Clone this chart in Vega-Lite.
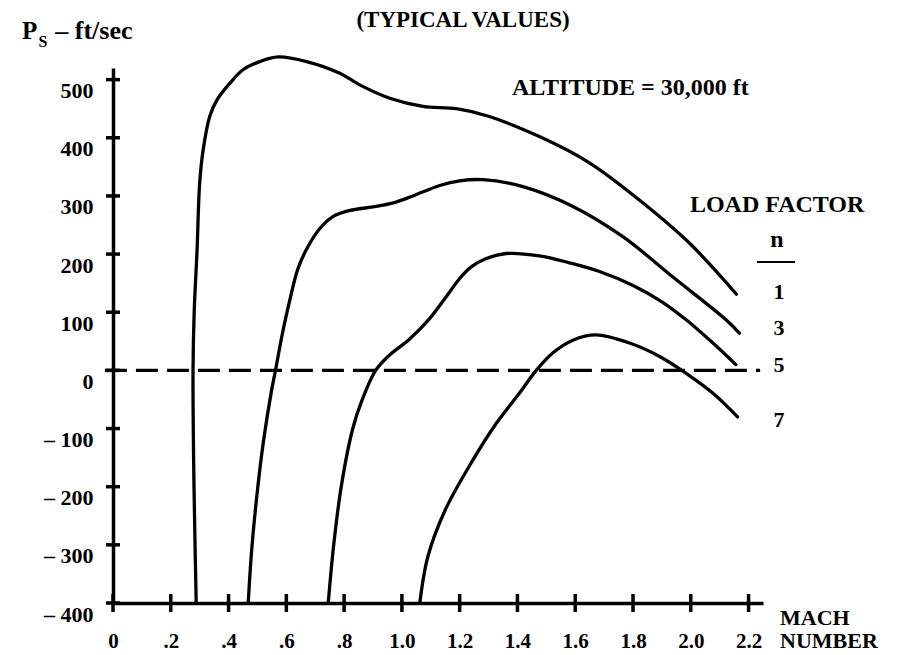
{
  "$schema": "https://vega.github.io/schema/vega-lite/v6.json",
  "width": 650,
  "height": 535,
  "autosize": {"type": "none"},
  "padding": {"left": 113, "top": 68, "right": 145, "bottom": 52},
  "background": "white",
  "config": {
    "view": {"stroke": null},
    "font": "Liberation Serif",
    "text": {"font": "Liberation Serif", "fontWeight": "bold", "color": "black"},
    "axis": {"title": null, "grid": false, "ticks": false, "domainColor": "black", "domainWidth": 3.5,
             "labelFont": "Liberation Serif", "labelFontWeight": "bold", "labelFontSize": 22, "labelColor": "black",
             "labelOverlap": false, "labelFlush": false, "labelBound": false}
  },
  "datasets": {
    "curves": [
      {"n": 1, "mach": 0.288, "ps": -400}, {"n": 1, "mach": 0.284, "ps": -300}, {"n": 1, "mach": 0.279, "ps": -150},
      {"n": 1, "mach": 0.277, "ps": 0}, {"n": 1, "mach": 0.281, "ps": 100}, {"n": 1, "mach": 0.291, "ps": 207},
      {"n": 1, "mach": 0.300, "ps": 322}, {"n": 1, "mach": 0.312, "ps": 379}, {"n": 1, "mach": 0.335, "ps": 437},
      {"n": 1, "mach": 0.361, "ps": 466}, {"n": 1, "mach": 0.405, "ps": 494}, {"n": 1, "mach": 0.45, "ps": 517},
      {"n": 1, "mach": 0.508, "ps": 531}, {"n": 1, "mach": 0.572, "ps": 539}, {"n": 1, "mach": 0.67, "ps": 531},
      {"n": 1, "mach": 0.785, "ps": 511}, {"n": 1, "mach": 0.854, "ps": 491}, {"n": 1, "mach": 0.958, "ps": 468},
      {"n": 1, "mach": 1.073, "ps": 454}, {"n": 1, "mach": 1.188, "ps": 450}, {"n": 1, "mach": 1.30, "ps": 437},
      {"n": 1, "mach": 1.476, "ps": 402}, {"n": 1, "mach": 1.649, "ps": 357}, {"n": 1, "mach": 1.822, "ps": 293},
      {"n": 1, "mach": 1.995, "ps": 219}, {"n": 1, "mach": 2.158, "ps": 131},
      {"n": 3, "mach": 0.468, "ps": -400}, {"n": 3, "mach": 0.48, "ps": -309}, {"n": 3, "mach": 0.497, "ps": -220},
      {"n": 3, "mach": 0.52, "ps": -125}, {"n": 3, "mach": 0.549, "ps": -34}, {"n": 3, "mach": 0.5625, "ps": 0},
      {"n": 3, "mach": 0.585, "ps": 60}, {"n": 3, "mach": 0.612, "ps": 121}, {"n": 3, "mach": 0.641, "ps": 176},
      {"n": 3, "mach": 0.675, "ps": 213}, {"n": 3, "mach": 0.716, "ps": 244}, {"n": 3, "mach": 0.76, "ps": 264},
      {"n": 3, "mach": 0.82, "ps": 275}, {"n": 3, "mach": 0.90, "ps": 281}, {"n": 3, "mach": 0.97, "ps": 288},
      {"n": 3, "mach": 1.038, "ps": 300}, {"n": 3, "mach": 1.131, "ps": 318}, {"n": 3, "mach": 1.20, "ps": 326},
      {"n": 3, "mach": 1.28, "ps": 328}, {"n": 3, "mach": 1.419, "ps": 316},
      {"n": 3, "mach": 1.592, "ps": 282}, {"n": 3, "mach": 1.765, "ps": 230}, {"n": 3, "mach": 1.937, "ps": 161},
      {"n": 3, "mach": 2.122, "ps": 87}, {"n": 3, "mach": 2.168, "ps": 64},
      {"n": 5, "mach": 0.745, "ps": -400}, {"n": 5, "mach": 0.764, "ps": -300}, {"n": 5, "mach": 0.79, "ps": -200},
      {"n": 5, "mach": 0.83, "ps": -100}, {"n": 5, "mach": 0.863, "ps": -50}, {"n": 5, "mach": 0.909, "ps": 0},
      {"n": 5, "mach": 0.952, "ps": 24}, {"n": 5, "mach": 1.027, "ps": 54}, {"n": 5, "mach": 1.096, "ps": 89},
      {"n": 5, "mach": 1.154, "ps": 127}, {"n": 5, "mach": 1.2, "ps": 158}, {"n": 5, "mach": 1.24, "ps": 178},
      {"n": 5, "mach": 1.29, "ps": 192},
      {"n": 5, "mach": 1.361, "ps": 201}, {"n": 5, "mach": 1.476, "ps": 197}, {"n": 5, "mach": 1.58, "ps": 185},
      {"n": 5, "mach": 1.684, "ps": 170}, {"n": 5, "mach": 1.80, "ps": 146}, {"n": 5, "mach": 1.90, "ps": 118},
      {"n": 5, "mach": 1.984, "ps": 87}, {"n": 5, "mach": 2.07, "ps": 50}, {"n": 5, "mach": 2.156, "ps": 10},
      {"n": 7, "mach": 1.062, "ps": -400}, {"n": 7, "mach": 1.09, "ps": -320}, {"n": 7, "mach": 1.15, "ps": -240},
      {"n": 7, "mach": 1.246, "ps": -154}, {"n": 7, "mach": 1.327, "ps": -91}, {"n": 7, "mach": 1.407, "ps": -39},
      {"n": 7, "mach": 1.465, "ps": 0}, {"n": 7, "mach": 1.522, "ps": 30}, {"n": 7, "mach": 1.592, "ps": 52},
      {"n": 7, "mach": 1.672, "ps": 61}, {"n": 7, "mach": 1.788, "ps": 47}, {"n": 7, "mach": 1.892, "ps": 24},
      {"n": 7, "mach": 1.984, "ps": -5}, {"n": 7, "mach": 2.076, "ps": -39}, {"n": 7, "mach": 2.162, "ps": -80}
    ],
    "xticks": [
      {"mach": 0}, {"mach": 0.2}, {"mach": 0.4}, {"mach": 0.6}, {"mach": 0.8}, {"mach": 1.0},
      {"mach": 1.2}, {"mach": 1.4}, {"mach": 1.6}, {"mach": 1.8}, {"mach": 2.0}, {"mach": 2.2}
    ],
    "yticks": [
      {"ps": -400}, {"ps": -300}, {"ps": -200}, {"ps": -100}, {"ps": 0},
      {"ps": 100}, {"ps": 200}, {"ps": 300}, {"ps": 400}, {"ps": 500}
    ]
  },
  "layer": [
    {
      "data": {"name": "curves"},
      "mark": {"type": "line", "interpolate": "catmull-rom", "color": "black", "strokeWidth": 3.3, "strokeCap": "round", "strokeJoin": "round"},
      "encoding": {
        "x": {"field": "mach", "type": "quantitative",
              "scale": {"domain": [0, 2.25], "nice": false, "zero": false},
              "axis": {"values": [0, 0.2, 0.4, 0.6, 0.8, 1.0, 1.2, 1.4, 1.6, 1.8, 2.0, 2.2], "labelPadding": 44,
                       "labelBaseline": "alphabetic", "labelFontSize": 21,
                       "labelExpr": "datum.value == 0 ? '0' : (datum.value < 0.99 ? '.' + round(datum.value * 10) : format(datum.value, '.1f'))"}},
        "y": {"field": "ps", "type": "quantitative",
              "scale": {"domain": [-400, 520], "nice": false, "zero": false},
              "axis": {"values": [-400, -300, -200, -100, 0, 100, 200, 300, 400, 500], "labelPadding": 20, "labelBaseline": "top", "labelOffset": 1,
                       "labelExpr": "datum.value < 0 ? '\u2013 ' + abs(datum.value) : '' + datum.value"}},
        "detail": {"field": "n", "type": "nominal"},
        "order": {"value": null}
      }
    },
    {
      "data": {"name": "xticks"},
      "mark": {"type": "tick", "orient": "vertical", "size": 18, "thickness": 3.5, "color": "black", "opacity": 1},
      "encoding": {
        "x": {"field": "mach", "type": "quantitative"},
        "y": {"datum": -400, "type": "quantitative"}
      }
    },
    {
      "data": {"name": "yticks"},
      "mark": {"type": "tick", "orient": "horizontal", "size": 14, "thickness": 3.5, "color": "black", "opacity": 1},
      "encoding": {
        "y": {"field": "ps", "type": "quantitative"},
        "x": {"datum": 0, "type": "quantitative"}
      }
    },
    {
      "data": {"values": [{}]},
      "mark": {"type": "rule", "strokeDash": [22, 9], "strokeWidth": 3.2, "color": "black"},
      "encoding": {
        "x": {"datum": -0.028, "type": "quantitative"},
        "x2": {"datum": 2.24},
        "y": {"datum": 0, "type": "quantitative"}
      }
    },
    {
      "data": {"values": [{}]},
      "mark": {"type": "rule", "strokeWidth": 2, "color": "black"},
      "encoding": {
        "x": {"datum": 2.229, "type": "quantitative"},
        "x2": {"datum": 2.361},
        "y": {"datum": 186.4, "type": "quantitative"}
      }
    },
    {
      "data": {"values": [{}]},
      "mark": {"type": "text", "align": "center", "baseline": "alphabetic", "fontSize": 23},
      "encoding": {"x": {"datum": 1.2115, "type": "quantitative"}, "y": {"datum": 590.5, "type": "quantitative"}, "text": {"value": "(TYPICAL VALUES)"}}
    },
    {
      "data": {"values": [{}]},
      "mark": {"type": "text", "align": "left", "baseline": "alphabetic", "fontSize": 25},
      "encoding": {"x": {"datum": -0.315, "type": "quantitative"}, "y": {"datum": 569.9, "type": "quantitative"}, "text": {"value": "P"}}
    },
    {
      "data": {"values": [{}]},
      "mark": {"type": "text", "align": "left", "baseline": "alphabetic", "fontSize": 16},
      "encoding": {"x": {"datum": -0.258, "type": "quantitative"}, "y": {"datum": 556.1, "type": "quantitative"}, "text": {"value": "S"}}
    },
    {
      "data": {"values": [{}]},
      "mark": {"type": "text", "align": "left", "baseline": "alphabetic", "fontSize": 26},
      "encoding": {"x": {"datum": -0.2, "type": "quantitative"}, "y": {"datum": 569.9, "type": "quantitative"}, "text": {"value": "\u2013 ft/sec"}}
    },
    {
      "data": {"values": [{}]},
      "mark": {"type": "text", "align": "left", "baseline": "alphabetic", "fontSize": 24},
      "encoding": {"x": {"datum": 1.381, "type": "quantitative"}, "y": {"datum": 473.6, "type": "quantitative"}, "text": {"value": "ALTITUDE = 30,000 ft"}}
    },
    {
      "data": {"values": [{}]},
      "mark": {"type": "text", "align": "left", "baseline": "alphabetic", "fontSize": 24},
      "encoding": {"x": {"datum": 1.997, "type": "quantitative"}, "y": {"datum": 272.4, "type": "quantitative"}, "text": {"value": "LOAD FACTOR"}}
    },
    {
      "data": {"values": [{}]},
      "mark": {"type": "text", "align": "center", "baseline": "alphabetic", "fontSize": 24},
      "encoding": {"x": {"datum": 2.298, "type": "quantitative"}, "y": {"datum": 212.2, "type": "quantitative"}, "text": {"value": "n"}}
    },
    {
      "data": {"values": [{}]},
      "mark": {"type": "text", "align": "center", "baseline": "alphabetic", "fontSize": 22},
      "encoding": {"x": {"datum": 2.305, "type": "quantitative"}, "y": {"datum": 122.8, "type": "quantitative"}, "text": {"value": "1"}}
    },
    {
      "data": {"values": [{}]},
      "mark": {"type": "text", "align": "center", "baseline": "alphabetic", "fontSize": 22},
      "encoding": {"x": {"datum": 2.305, "type": "quantitative"}, "y": {"datum": 60.8, "type": "quantitative"}, "text": {"value": "3"}}
    },
    {
      "data": {"values": [{}]},
      "mark": {"type": "text", "align": "center", "baseline": "alphabetic", "fontSize": 22},
      "encoding": {"x": {"datum": 2.305, "type": "quantitative"}, "y": {"datum": -2.8, "type": "quantitative"}, "text": {"value": "5"}}
    },
    {
      "data": {"values": [{}]},
      "mark": {"type": "text", "align": "center", "baseline": "alphabetic", "fontSize": 22},
      "encoding": {"x": {"datum": 2.305, "type": "quantitative"}, "y": {"datum": -97.4, "type": "quantitative"}, "text": {"value": "7"}}
    },
    {
      "data": {"values": [{}]},
      "mark": {"type": "text", "align": "left", "baseline": "alphabetic", "fontSize": 22},
      "encoding": {"x": {"datum": 2.309, "type": "quantitative"}, "y": {"datum": -437, "type": "quantitative"}, "text": {"value": "MACH"}}
    },
    {
      "data": {"values": [{}]},
      "mark": {"type": "text", "align": "left", "baseline": "alphabetic", "fontSize": 22},
      "encoding": {"x": {"datum": 2.309, "type": "quantitative"}, "y": {"datum": -477.4, "type": "quantitative"}, "text": {"value": "NUMBER"}}
    }
  ]
}
